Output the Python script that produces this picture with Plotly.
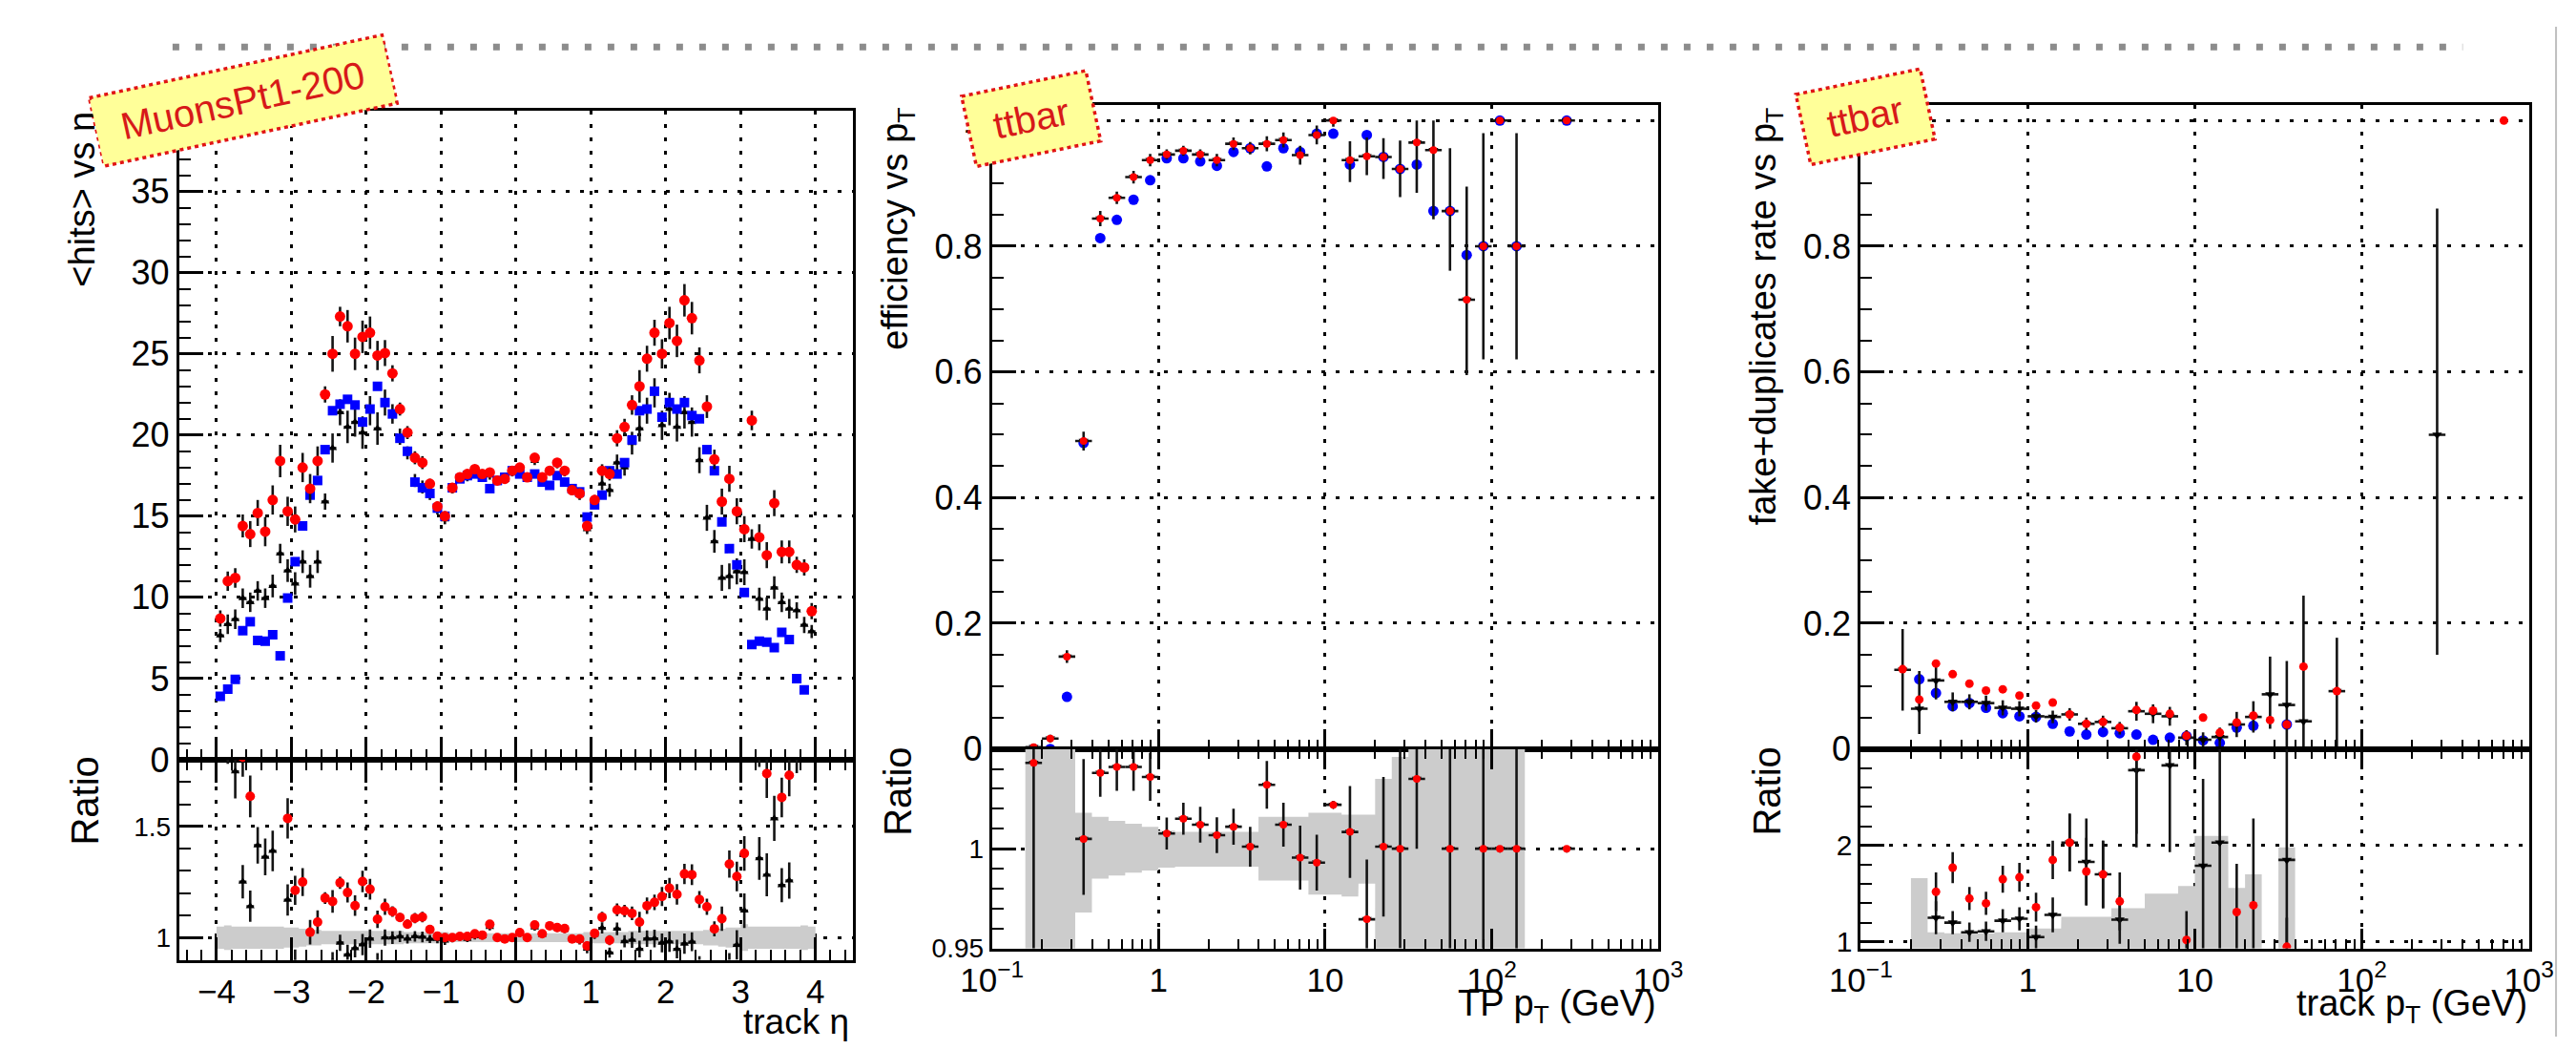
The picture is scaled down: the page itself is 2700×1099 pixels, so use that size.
import math
import plotly.graph_objects as go

W, H = 2700, 1099
FONT = "Liberation Sans, Arial, Helvetica, sans-serif"

# ================= Panel 1 : <hits> vs eta  (MuonsPt1-200) =================
eta = [-3.95, -3.85, -3.75, -3.65, -3.55, -3.45, -3.35, -3.25, -3.15, -3.05,
       -2.95, -2.85, -2.75, -2.65, -2.55, -2.45, -2.35, -2.25, -2.15, -2.05,
       -1.95, -1.85, -1.75, -1.65, -1.55, -1.45, -1.35, -1.25, -1.15, -1.05,
       -0.95, -0.85, -0.75, -0.65, -0.55, -0.45, -0.35, -0.25, -0.15, -0.05,
       0.05, 0.15, 0.25, 0.35, 0.45, 0.55, 0.65, 0.75, 0.85, 0.95,
       1.05, 1.15, 1.25, 1.35, 1.45, 1.55, 1.65, 1.75, 1.85, 1.95,
       2.05, 2.15, 2.25, 2.35, 2.45, 2.55, 2.65, 2.75, 2.85, 2.95,
       3.05, 3.15, 3.25, 3.35, 3.45, 3.55, 3.65, 3.75, 3.85, 3.95]

hits_red = [8.7, 11.0, 11.2, 14.4, 13.9, 15.2, 14.05, 16.0, 18.4, 15.3,
            14.8, 18.0, 16.7, 18.4, 22.5, 25.0, 27.3, 26.7, 25.0, 26.05,
            26.3, 24.9, 25.05, 23.8, 21.6, 20.15, 18.6, 18.3, 17.0, 15.6,
            15.0, 16.75, 17.4, 17.6, 17.9, 17.6, 17.7, 17.2, 17.3, 17.8,
            18.0, 17.4, 18.6, 17.4, 17.8, 18.3, 17.8, 16.6, 16.4, 14.4,
            16.0, 17.8, 17.6, 19.8, 20.5, 21.85, 23.0, 24.7, 26.3, 25.0,
            26.9, 25.8, 28.3, 27.2, 24.6, 21.75, 18.5, 15.9, 17.3, 15.3,
            14.2, 20.9, 13.7, 12.6, 15.8, 12.8, 12.8, 12.0, 11.85, 9.15]
hits_red_err = [0.5, 0.6, 0.6, 0.7, 0.8, 0.8, 0.9, 0.9, 1.0, 0.9,
                0.8, 0.9, 0.9, 0.9, 0.5, 1.1, 0.6, 1.0, 1.0, 1.0,
                1.0, 0.9, 0.8, 0.5, 0.4, 0.4, 0.4, 0.4, 0.3, 0.3,
                0.3, 0.3, 0.25, 0.25, 0.25, 0.25, 0.25, 0.25, 0.25, 0.25,
                0.25, 0.25, 0.25, 0.25, 0.25, 0.25, 0.25, 0.3, 0.3, 0.3,
                0.3, 0.4, 0.4, 0.5, 0.5, 0.6, 1.0, 0.8, 0.8, 0.9,
                1.0, 1.0, 1.0, 1.0, 0.8, 0.7, 0.6, 0.8, 0.8, 0.8,
                0.8, 0.6, 0.8, 0.8, 0.8, 0.7, 0.7, 0.5, 0.5, 0.5]
hits_blue = [3.9, 4.35, 4.95, 7.95, 8.5, 7.35, 7.3, 7.7, 6.4, 9.96,
             12.2, 14.4, 16.3, 17.2, 19.1, 21.5, 21.9, 22.2, 21.85, 20.8,
             21.6, 23.0, 22.0, 21.3, 19.8, 19.0, 17.1, 16.75, 16.4, 15.5,
             15.0, 16.75, 17.3, 17.5, 17.6, 17.4, 16.7, 17.2, 17.4, 17.8,
             17.6, 17.4, 17.6, 17.1, 16.9, 17.5, 17.1, 16.7, 16.5, 14.95,
             15.7, 16.3, 17.8, 17.6, 18.3, 19.7, 21.5, 21.6, 22.7, 21.1,
             22.0, 21.6, 22.0, 21.2, 21.0, 19.1, 17.8, 14.65, 13.0, 12.0,
             10.3, 7.1, 7.3, 7.25, 6.9, 7.85, 7.4, 5.0, 4.3, None]
hits_black = [7.65, 8.35, 8.65, 9.95, 9.7, 10.4, 9.95, 10.7, 12.7, 11.65,
              10.85, 12.2, 11.3, 12.2, 15.9, 19.2, 21.4, 20.5, 20.8, 20.15,
              21.5, 20.4, 22.0, 21.3, 19.9, 18.9, 17.2, 16.8, 16.3, 15.4,
              14.8, 16.7, 17.3, 17.4, 17.7, 17.5, 17.5, 17.2, 17.3, 17.7,
              17.9, 17.4, 18.4, 17.3, 17.8, 18.2, 17.7, 16.6, 16.3, 14.2,
              15.9, 17.0, 16.6, 18.3, 18.0, 19.5, 20.4, 21.5, 22.6, 20.6,
              21.6, 20.5, 21.4, 20.8, 18.45, 14.9, 13.45, 11.2, 11.3, 11.6,
              11.55, 13.6, 9.9, 9.3, 10.6, 9.7, 9.3, 9.2, 8.3, 7.9]
hits_black_err = [0.4, 0.6, 0.6, 0.6, 0.6, 0.6, 0.6, 0.7, 0.6, 0.7,
                  0.7, 0.7, 0.7, 0.7, 0.5, 0.9, 0.8, 1.0, 0.9, 1.0,
                  0.9, 1.0, 0.8, 0.6, 0.5, 0.4, 0.4, 0.4, 0.3, 0.3,
                  0.3, 0.3, 0.25, 0.25, 0.25, 0.25, 0.25, 0.25, 0.25, 0.25,
                  0.25, 0.25, 0.25, 0.25, 0.25, 0.25, 0.25, 0.3, 0.3, 0.3,
                  0.3, 0.4, 0.4, 0.5, 0.5, 0.7, 0.8, 0.8, 0.9, 0.9,
                  1.0, 0.9, 1.0, 0.9, 0.8, 0.8, 0.7, 0.8, 0.8, 0.8,
                  0.8, 0.6, 0.7, 0.7, 0.7, 0.6, 0.6, 0.5, 0.5, 0.4]
hits_band = [0.05, 0.055, 0.05, 0.05, 0.05, 0.05, 0.05, 0.05, 0.05, 0.045,
             0.045, 0.04, 0.035, 0.035, 0.03, 0.03, 0.03, 0.03, 0.03, 0.03,
             0.03, 0.03, 0.03, 0.03, 0.03, 0.025, 0.025, 0.025, 0.025, 0.025,
             0.025, 0.02, 0.02, 0.02, 0.02, 0.02, 0.02, 0.02, 0.02, 0.02,
             0.02, 0.02, 0.02, 0.02, 0.02, 0.02, 0.02, 0.02, 0.02, 0.025,
             0.025, 0.025, 0.025, 0.025, 0.025, 0.03, 0.03, 0.03, 0.03, 0.03,
             0.03, 0.03, 0.03, 0.03, 0.03, 0.035, 0.035, 0.04, 0.045, 0.045,
             0.06, 0.05, 0.05, 0.05, 0.05, 0.05, 0.05, 0.05, 0.055, 0.05]

# ================= Panel 2 : efficiency vs pT (ttbar) =================
eff_pt = [0.178, 0.224, 0.282, 0.355, 0.447, 0.562, 0.708, 0.891, 1.12, 1.41,
          1.78, 2.24, 2.82, 3.55, 4.47, 5.62, 7.08, 8.91, 11.2, 14.1,
          17.8, 22.4, 28.2, 35.5, 44.7, 56.2, 70.8, 89.1, 112, 141, 282]
eff_red = [0.003, 0.0165, 0.147, 0.49, 0.844, 0.877, 0.910, 0.937, 0.946, 0.952,
           0.946, 0.937, 0.963, 0.956, 0.963, 0.969, 0.945, 0.977, 1.0, 0.937,
           0.943, 0.942, 0.923, 0.965, 0.953, 0.856, 0.715, 0.8, 1.0, 0.8, 1.0]
eff_blue = [0.0, 0.0, 0.083, 0.487, 0.813, 0.842, 0.874, 0.905, 0.94, 0.94,
            0.935, 0.928, 0.95, 0.956, 0.927, 0.956, 0.95, 0.979, 0.979, 0.930,
            0.977, 0.942, 0.923, 0.930, 0.856, 0.856, 0.786, 0.8, 1.0, 0.8, 1.0]
eff_black = eff_red  # identical to the red series in this comparison
eff_err_up = [0.003, 0.006, 0.01, 0.015, 0.012, 0.01, 0.01, 0.01, 0.008, 0.008,
              0.008, 0.01, 0.01, 0.01, 0.012, 0.012, 0.015, 0.015, 0.0, 0.03,
              0.03, 0.03, 0.045, 0.035, 0.047, 0.1, 0.18, 0.18, 0.0, 0.18, 0.0]
eff_err_dn = [0.003, 0.006, 0.01, 0.015, 0.012, 0.01, 0.01, 0.01, 0.008, 0.008,
              0.008, 0.01, 0.01, 0.01, 0.012, 0.012, 0.015, 0.015, 0.01, 0.035,
              0.03, 0.035, 0.045, 0.08, 0.11, 0.095, 0.12, 0.18, 0.0, 0.18, 0.0]
eff_ratio = [1.043, None, None, 1.0049, 1.038, 1.041, 1.041, 1.036, 1.0076, 1.015,
             1.012, 1.0068, 1.011, 1.001, 1.032, 1.012, 0.9955, 0.993, 1.022, 1.0084,
             0.9646, 1.001, 1.0, 1.035, None, 1.0, None, 1.0, 1.0, 1.0, 1.0]
eff_ratio_up = [0.2, None, None, 0.04, 0.012, 0.012, 0.012, 0.012, 0.008, 0.008,
                0.009, 0.009, 0.009, 0.01, 0.012, 0.011, 0.016, 0.014, 0.002, 0.023,
                0.03, 0.035, 0.05, 0.035, None, 0.1, None, 0.1, 0.0, 0.1, 0.0]
eff_ratio_dn = [0.2, None, None, 0.028, 0.012, 0.012, 0.012, 0.012, 0.008, 0.008,
                0.009, 0.009, 0.009, 0.01, 0.012, 0.011, 0.016, 0.014, 0.002, 0.023,
                0.03, 0.035, 0.05, 0.035, None, 0.1, None, 0.1, 0.0, 0.1, 0.0]
eff_band_hi = [0.06, 0.06, 0.06, 0.018, 0.016, 0.014, 0.0125, 0.011, 0.009, 0.0085,
               0.0085, 0.0085, 0.0085, 0.0085, 0.016, 0.016, 0.016, 0.018, 0.018, 0.017,
               0.017, 0.035, 0.046, 0.06, 0.06, 0.06, 0.06, 0.06, 0.06, 0.06, None]
eff_band_lo = [0.06, 0.06, 0.06, 0.032, 0.015, 0.0135, 0.012, 0.011, 0.0095, 0.009,
               0.009, 0.009, 0.009, 0.009, 0.016, 0.016, 0.016, 0.023, 0.023, 0.024,
               0.0175, 0.06, 0.06, 0.06, 0.06, 0.06, 0.06, 0.06, 0.06, 0.06, None]

# ================= Panel 3 : fake+duplicates rate vs pT (ttbar) =================
fake_pt = [0.178, 0.224, 0.282, 0.355, 0.447, 0.562, 0.708, 0.891, 1.12, 1.41,
           1.78, 2.24, 2.82, 3.55, 4.47, 5.62, 7.08, 8.91, 11.2, 14.1,
           17.8, 22.4, 28.2, 35.5, 44.7, 70.8, 282, 708]
fake_red = [0.127, 0.0786, 0.136, 0.119, 0.104, 0.093, 0.095, 0.085, 0.069, 0.074,
            0.055, 0.040, 0.043, 0.034, 0.062, 0.061, 0.056, 0.021, 0.050, 0.026,
            0.042, 0.053, 0.046, 0.039, 0.131, 0.092, None, 1.0]
fake_blue = [None, 0.111, 0.089, 0.068, 0.073, 0.0655, 0.057, 0.052, 0.051, 0.040,
             0.028, 0.023, 0.027, 0.025, 0.023, 0.0146, 0.018, 0.0205, 0.0136, 0.0097,
             0.034, 0.037, None, 0.039, None, None, None, None]
fake_black = [0.126, 0.064, 0.109, 0.075, 0.075, 0.073, 0.0655, 0.064, 0.052, 0.051,
              0.055, 0.040, 0.043, 0.033, 0.060, 0.056, 0.052, 0.018, 0.0146, 0.019,
              0.039, 0.051, 0.087, 0.070, 0.044, 0.092, 0.5, None]
fake_black_up = [0.065, 0.06, 0.03, 0.015, 0.012, 0.012, 0.012, 0.012, 0.01, 0.01,
                 0.01, 0.01, 0.01, 0.01, 0.015, 0.015, 0.015, 0.012, 0.012, 0.015,
                 0.02, 0.025, 0.06, 0.07, 0.2, 0.085, 0.36, None]
fake_black_dn = [0.065, 0.04, 0.03, 0.015, 0.012, 0.012, 0.012, 0.012, 0.01, 0.01,
                 0.01, 0.01, 0.01, 0.01, 0.015, 0.015, 0.015, 0.012, 0.012, 0.015,
                 0.02, 0.025, 0.055, 0.07, 0.044, 0.09, 0.35, None]
fake_red_ratio = [None, None, 1.52, 1.77, 1.45, 1.40, 1.65, 1.67, 1.36, 1.85,
                  2.03, 1.73, 1.70, 1.42, 2.92, None, None, 1.02, None, None,
                  1.31, 1.38, None, 0.95, None, None, None, None]
fake_red_ratio_err = [None, None, 0.2, 0.16, 0.12, 0.12, 0.14, 0.15, 0.15, 0.2,
                      0.3, 0.35, 0.35, 0.3, 0.8, None, None, 0.3, None, None,
                      0.5, 0.9, None, 0.3, None, None, None, None]
fake_black_ratio = [None, None, 1.25, 1.20, 1.10, 1.11, 1.22, 1.24, 1.05, 1.28,
                    2.03, 1.83, 1.70, 1.23, 2.78, None, 2.83, None, 1.79, 2.03,
                    None, None, None, 1.85, None, None, None, None]
fake_black_ratio_err = [None, None, 0.17, 0.12, 0.1, 0.1, 0.12, 0.12, 0.12, 0.18,
                        0.3, 0.45, 0.35, 0.25, 0.8, None, 0.9, None, 0.9, 1.1,
                        None, None, None, 1.5, None, None, None, None]
fake_band = [None, 0.66, 0.10, 0.09, 0.09, 0.09, 0.10, 0.10, 0.14, 0.14,
             0.26, 0.26, 0.26, 0.35, 0.35, 0.5, 0.5, 0.58, 1.1, 1.1,
             0.56, 0.7, None, 0.98, None, None, None, None]

# ---------------------------------------------------------------------------
def X(px):
    return px / W


def Y(py):
    return 1 - py / H


def nz(lst):
    return [0 if v is None else v for v in lst]


def ratio(num, den):
    return [n / d if (n is not None and d) else None for n, d in zip(num, den)]


def ratio_err(err, den):
    return [e / d if (e is not None and d) else 0 for e, d in zip(err, den)]


def band_path(centers, lo, hi, edges):
    xs, ys, run = [], [], []

    def flush():
        if not run:
            return
        top, bot = [], []
        for x0, x1, l, h in run:
            top += [(x0, 1 + h), (x1, 1 + h)]
            bot += [(x0, 1 - l), (x1, 1 - l)]
        poly = top + bot[::-1] + [top[0]]
        for px, py in poly:
            xs.append(px)
            ys.append(py)
        xs.append(None)
        ys.append(None)
        run.clear()

    for c, l, h in zip(centers, lo, hi):
        if l is None:
            flush()
            continue
        x0, x1 = edges(c)
        if run and abs(run[-1][1] - x0) > 0.03 * abs(x0) + 1e-9:
            flush()
        run.append((x0, x1, l, h))
    flush()
    return xs, ys


lin_edges = lambda c: (c - 0.05, c + 0.05)
log_edges = lambda c: (c / 10 ** 0.05, c * 10 ** 0.05)


def log_xerr(xs):
    return ([c * (10 ** 0.05 - 1) for c in xs], [c * (1 - 10 ** -0.05) for c in xs])


BAND = "rgb(204,204,204)"
ERRC = "rgb(20,20,20)"
RED = "rgb(255,0,0)"
BLUE = "rgb(0,0,255)"

fig = go.Figure()


def add_band(xs, ys, xa, ya):
    fig.add_trace(go.Scatter(x=xs, y=ys, xaxis=xa, yaxis=ya, mode="lines", fill="toself",
                             fillcolor=BAND, line=dict(width=0, color=BAND), hoverinfo="skip"))


def add_pts(x, y, xa, ya, color, symbol, size, up=None, dn=None, exp=None, exm=None,
            exconst=None):
    kw = {}
    if up is not None:
        kw["error_y"] = dict(type="data", symmetric=False, array=nz(up),
                             arrayminus=nz(dn if dn is not None else up),
                             color=ERRC, thickness=2.6, width=0)
    if exp is not None:
        kw["error_x"] = dict(type="data", symmetric=False, array=exp, arrayminus=exm,
                             color=ERRC, thickness=2.6, width=0)
    elif exconst is not None:
        kw["error_x"] = dict(type="constant", value=exconst, color=ERRC, thickness=2.6, width=0)
    fig.add_trace(go.Scatter(x=x, y=y, xaxis=xa, yaxis=ya, mode="markers",
                             marker=dict(color=color, symbol=symbol, size=size,
                                         line=dict(width=0)), **kw))


# ---- Panel 1 upper
add_pts(eta, hits_black, "x", "y", "black", "triangle-up", 8,
        up=hits_black_err, exconst=0.05)
add_pts(eta, hits_blue, "x", "y", BLUE, "square", 10)
add_pts(eta, hits_red, "x", "y", RED, "circle", 11, up=hits_red_err)
# ---- Panel 1 ratio
bx, by = band_path(eta, hits_band, hits_band, lin_edges)
add_band(bx, by, "x2", "y2")
add_pts(eta, ratio(hits_black, hits_blue), "x2", "y2", "black", "triangle-up", 8,
        up=ratio_err(hits_black_err, hits_blue), exconst=0.05)
add_pts(eta, ratio(hits_red, hits_blue), "x2", "y2", RED, "circle", 10,
        up=ratio_err(hits_red_err, hits_blue))

# ---- Panel 2 upper
exp2, exm2 = log_xerr(eff_pt)
add_pts(eff_pt, eff_blue, "x3", "y3", BLUE, "circle", 11)
add_pts(eff_pt, eff_black, "x3", "y3", "black", "triangle-down", 9,
        up=eff_err_up, dn=eff_err_dn, exp=exp2, exm=exm2)
add_pts(eff_pt, eff_red, "x3", "y3", RED, "circle", 8)
# ---- Panel 2 ratio
bx, by = band_path(eff_pt, eff_band_lo, eff_band_hi, log_edges)
add_band(bx, by, "x4", "y4")
add_pts(eff_pt, eff_ratio, "x4", "y4", "black", "triangle-down", 9,
        up=eff_ratio_up, dn=eff_ratio_dn, exp=exp2, exm=exm2)
add_pts(eff_pt, eff_ratio, "x4", "y4", RED, "circle", 8)

# ---- Panel 3 upper
exp3, exm3 = log_xerr(fake_pt)
add_pts(fake_pt, fake_blue, "x5", "y5", BLUE, "circle", 11)
add_pts(fake_pt, fake_black, "x5", "y5", "black", "triangle-down", 9,
        up=fake_black_up, dn=fake_black_dn, exp=exp3, exm=exm3)
add_pts(fake_pt, fake_red, "x5", "y5", RED, "circle", 9)
# ---- Panel 3 ratio
bx, by = band_path(fake_pt, fake_band, fake_band, log_edges)
add_band(bx, by, "x6", "y6")
add_pts(fake_pt, fake_black_ratio, "x6", "y6", "black", "triangle-down", 9,
        up=fake_black_ratio_err, exp=exp3, exm=exm3)
add_pts(fake_pt, fake_red_ratio, "x6", "y6", RED, "circle", 9, up=fake_red_ratio_err)

# ---------------------------------------------------------------------------
GRID_X = "4px,10px"
GRID_Y = "4px,11px"


def axis(**kw):
    d = dict(showline=True, linecolor="black", linewidth=3, mirror=True,
             ticks="inside", tickcolor="black", tickwidth=2.5, ticklen=24,
             showgrid=True, gridcolor="black", gridwidth=2.5,
             zeroline=False, fixedrange=True,
             tickfont=dict(family=FONT, size=35, color="black"))
    d.update(kw)
    return d


def minor(**kw):
    d = dict(ticks="inside", ticklen=11, tickwidth=2, tickcolor="black", showgrid=False)
    d.update(kw)
    return d


log_minor = [m * 10 ** e for e in (-1, 0, 1, 2) for m in range(2, 10)]
log_ticks = [0.1, 1, 10, 100, 1000]
log_text = ["10<sup>\u22121</sup>", "1", "10", "10<sup>2</sup>", "10<sup>3</sup>"]

P1x = [X(150), X(872)]
P2x = [X(1021), X(1735)]
P3x = [X(1952), X(2668)]
up1 = [Y(797.7), Y(91)]
lo1 = [Y(1015.5), Y(797.7)]
up2 = [Y(786), Y(85)]
lo2 = [Y(1003), Y(786)]

layout = dict(
    width=W, height=H, autosize=False,
    margin=dict(l=0, r=0, t=0, b=0),
    paper_bgcolor="white", plot_bgcolor="white",
    showlegend=False,
    font=dict(family=FONT, color="black"),
    # panel 1
    xaxis=axis(domain=P1x, anchor="y", range=[-4.5, 4.5], dtick=1, tick0=0,
               showticklabels=False, griddash=GRID_X, minor=minor(dtick=0.2)),
    yaxis=axis(domain=up1, anchor="x", range=[0, 40], dtick=5, tick0=0, ticklen=25,
               griddash=GRID_Y, minor=minor(dtick=1, ticklen=12),
               tickfont=dict(family=FONT, size=36, color="black")),
    xaxis2=axis(domain=P1x, anchor="y2", range=[-4.5, 4.5], dtick=1, tick0=0,
                mirror="ticks", griddash=GRID_X, minor=minor(dtick=0.2)),
    yaxis2=axis(domain=lo1, anchor="x2", range=[0.9, 1.8], tickvals=[1, 1.5],
                ticktext=["1", "1.5"], ticklen=25, griddash=GRID_Y,
                minor=minor(dtick=0.1, tick0=0, ticklen=12),
                tickfont=dict(family=FONT, size=28, color="black")),
    # panel 2
    xaxis3=axis(domain=P2x, anchor="y3", type="log", range=[-1, 3], tickvals=log_ticks,
                ticktext=log_text, showticklabels=False, griddash=GRID_X, ticklen=21,
                minor=minor(tickmode="array", tickvals=log_minor, ticklen=10)),
    yaxis3=axis(domain=up2, anchor="x3", range=[0, 1.025], dtick=0.2, tick0=0, ticklen=25,
                griddash=GRID_Y, minor=minor(dtick=0.05, tick0=0, ticklen=12),
                tickfont=dict(family=FONT, size=36, color="black")),
    xaxis4=axis(domain=P2x, anchor="y4", type="log", range=[-1, 3], tickvals=log_ticks,
                ticktext=log_text, mirror="ticks", griddash=GRID_X, ticklen=21,
                minor=minor(tickmode="array", tickvals=log_minor, ticklen=10)),
    yaxis4=axis(domain=lo2, anchor="x4", range=[0.95, 1.05], tickvals=[0.95, 1],
                ticktext=["0.95", "1"], ticklen=25, griddash=GRID_Y,
                minor=minor(dtick=0.01, tick0=0, ticklen=12),
                tickfont=dict(family=FONT, size=28, color="black")),
    # panel 3
    xaxis5=axis(domain=P3x, anchor="y5", type="log", range=[-1, 3], tickvals=log_ticks,
                ticktext=log_text, showticklabels=False, griddash=GRID_X, ticklen=21,
                minor=minor(tickmode="array", tickvals=log_minor, ticklen=10)),
    yaxis5=axis(domain=up2, anchor="x5", range=[0, 1.025], dtick=0.2, tick0=0, ticklen=25,
                griddash=GRID_Y, minor=minor(dtick=0.05, tick0=0, ticklen=12),
                tickfont=dict(family=FONT, size=36, color="black")),
    xaxis6=axis(domain=P3x, anchor="y6", type="log", range=[-1, 3], tickvals=log_ticks,
                ticktext=log_text, mirror="ticks", griddash=GRID_X, ticklen=21,
                minor=minor(tickmode="array", tickvals=log_minor, ticklen=10)),
    yaxis6=axis(domain=lo2, anchor="x6", range=[0.933, 3.0], tickvals=[1, 2],
                ticktext=["1", "2"], ticklen=25, griddash=GRID_Y,
                minor=minor(dtick=0.2, tick0=0, ticklen=12),
                tickfont=dict(family=FONT, size=30, color="black")),
)
fig.update_layout(**layout)

# ---------------------------------------------------------------------------
shapes = []
annotations = []

# dotted grey separator at the top of the page
shapes.append(dict(type="line", xref="paper", yref="paper", x0=X(143), x1=X(2597),
                   y0=Y(22), y1=Y(22), line=dict(color="rgb(140,140,140)", width=7,
                                                   dash="7px,17px"), layer="above"))
# thin grey rule at the right page edge
shapes.append(dict(type="line", xref="paper", yref="paper", x0=X(2697), x1=X(2697),
                   y0=0, y1=1, line=dict(color="rgb(190,190,190)", width=2), layer="above"))


def ann(text, px, py, size, angle=0, xanchor="center", yanchor="middle", color="black"):
    annotations.append(dict(text=text, x=X(px), y=Y(py), xref="paper", yref="paper",
                            xanchor=xanchor, yanchor=yanchor, textangle=angle,
                            showarrow=False, font=dict(family=FONT, size=size, color=color)))


# axis titles (ROOT style: y titles right-aligned to the top of the axis)
ann("&lt;hits&gt; vs \u03b7", 46, 90, 38, angle=-90, yanchor="top")
ann("efficiency vs p<sub>T</sub>", 920, 86, 38, angle=-90, yanchor="top")
ann("fake+duplicates rate vs p<sub>T</sub>", 1850, 86, 38, angle=-90, yanchor="top")
ann("Ratio", 49, 842, 40, angle=-90)
ann("Ratio", 920, 832, 40, angle=-90)
ann("Ratio", 1851, 832, 40, angle=-90)
ann("track \u03b7", 870, 1083, 37, xanchor="right")
ann("TP p<sub>T</sub> (GeV)", 1735, 1066, 38, xanchor="right")
ann("track p<sub>T</sub> (GeV)", 2668, 1066, 38, xanchor="right")

# tilted sample labels
labels = [("MuonsPt1-200", 218.7, 80.4, 321, 76, -12.3),
          ("ttbar", 1063, 100, 136, 78, -11.8),
          ("ttbar", 1957, 98, 136, 78, -11.8)]
for text, cx, cy, w, h, ang in labels:
    t = math.radians(-ang)
    ux, uy = math.cos(t), -math.sin(t)
    vx, vy = math.sin(t), math.cos(t)
    corners = []
    for sw, sh in ((-1, -1), (1, -1), (1, 1), (-1, 1)):
        px = cx + sw * ux * w / 2 + sh * vx * h / 2
        py = cy + sw * uy * w / 2 + sh * vy * h / 2
        corners.append((X(px), Y(py)))
    path = "M " + " L ".join(f"{a:.5f},{b:.5f}" for a, b in corners) + " Z"
    shapes.append(dict(type="path", xref="paper", yref="paper", path=path,
                       fillcolor="rgb(255,255,153)", layer="above",
                       line=dict(color="rgb(225,20,20)", width=3.5, dash="4px,4px")))
    annotations.append(dict(text=text, x=X(cx), y=Y(cy), xref="paper", yref="paper",
                            xanchor="center", yanchor="middle", textangle=ang,
                            width=w - 8, height=h - 8, bgcolor="rgb(255,255,153)",
                            borderpad=0, borderwidth=0, showarrow=False,
                            font=dict(family=FONT, size=40, color="rgb(215,25,25)")))

fig.update_layout(shapes=shapes, annotations=annotations)
fig.write_html("out.html")
